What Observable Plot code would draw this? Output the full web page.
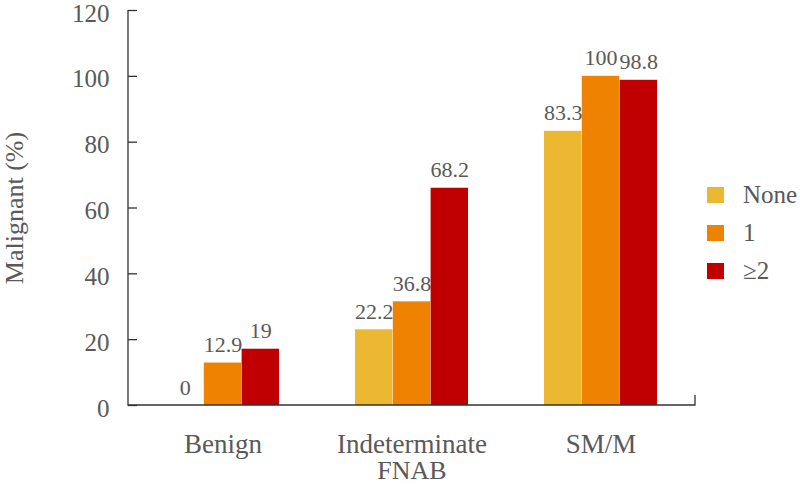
<!DOCTYPE html>
<html>
<head>
<meta charset="utf-8">
<script src="https://cdn.jsdelivr.net/npm/d3@7"></script>
<script src="https://cdn.jsdelivr.net/npm/@observablehq/plot@0.6"></script>
<style>
  html, body { margin: 0; padding: 0; background: #fff; }
  #wrap { position: relative; width: 800px; height: 484px; }
  #legend { position: absolute; left: 707px; top: 176px; font-family: "Liberation Serif", serif; font-size: 25px; color: #595959; }
  #legend .row { display: flex; align-items: center; height: 38px; }
  #legend .sw { width: 17px; height: 16px; margin-right: 19px; }
</style>
</head>
<body>
<div id="wrap"></div>
<script>
// ---- data ----
const groups = ["Benign", "Indeterminate", "SM/M"];
const seriesNames = ["None", "1", "≥2"];
const colors = ["#ECB731", "#EF8200", "#C00000"];
const valuesNone = [0, 23.0, 83.3];
const valuesOne = [12.9, 31.5, 100];
const valuesTwo = [17.1, 66.0, 98.8];
const labelsNone = ["0", "22.2", "83.3"];
const labelsOne = ["12.9", "36.8", "100"];
const labelsTwo = ["19", "68.2", "98.8"];
const yTicks = [0, 20, 40, 60, 80, 100, 120];
const xTitle = "FNAB";
const yTitle = "Malignant (%)";

const seriesValues = [valuesNone, valuesOne, valuesTwo];
const seriesLabels = [labelsNone, labelsOne, labelsTwo];
const data = [];
seriesNames.forEach((s, si) => groups.forEach((g, gi) => {
  data.push({group: g, series: s, si, value: seriesValues[si][gi], label: seriesLabels[si][gi]});
}));

// ---- layout ----
const W = 800, H = 484;
const mL = 128, mR = 105, mT = 10, mB = 79;
const padIn = 0.4, padOut = 0.2;
const step = (W - mL - mR) / (groups.length - padIn + 2 * padOut);
const bw = step * (1 - padIn);
const sub = bw / seriesNames.length;
const textColor = "#595959";

const axisLines = (index, scales, values, dims) => {
  const {width, height, marginLeft, marginRight, marginTop, marginBottom} = dims;
  const x0 = marginLeft, x1 = width - marginRight, yb = height - marginBottom;
  return d3.create("svg:path")
    .attr("d", `M${x0},${marginTop}V${yb}H${x1}V${yb - 10}`)
    .attr("fill", "none").attr("stroke", "#333").attr("stroke-width", 1.3)
    .node();
};

const marks = [];
seriesNames.forEach((s, si) => {
  const d = data.filter(r => r.si === si);
  marks.push(Plot.barY(d, {
    x: "group", y: "value", fill: colors[si],
    insetLeft: si * sub, insetRight: (seriesNames.length - 1 - si) * sub
  }));
  marks.push(Plot.text(d, {
    x: "group", y: "value", text: "label",
    dx: (si - (seriesNames.length - 1) / 2) * sub, dy: -11,
    lineAnchor: "bottom", fontSize: 22, fill: textColor
  }));
});

const chart = Plot.plot({
  width: W, height: H,
  marginLeft: mL, marginRight: mR, marginTop: mT, marginBottom: mB,
  style: {fontFamily: "Liberation Serif, serif", fontSize: "25px", color: textColor, background: "#fff"},
  x: {domain: groups, paddingInner: padIn, paddingOuter: padOut, label: null},
  y: {domain: [0, 120], label: null},
  marks: [
    ...marks,
    Plot.axisY({ticks: yTicks, tickSize: 0, tickPadding: 19, dy: 3, fontSize: 25, fill: textColor, label: null}),
    Plot.axisY({ticks: yTicks, tickSize: 9, dx: 9, text: null, stroke: "#333", strokeWidth: 1.3, label: null}),
    Plot.axisX({tickSize: 0, tickPadding: 28, fontSize: 27, fill: textColor, label: null}),
    Plot.text([xTitle], {frameAnchor: "bottom", dy: 65, lineAnchor: "middle", textAnchor: "middle", fill: textColor, fontSize: 26}),
    Plot.text([yTitle], {frameAnchor: "left", dx: -114, rotate: -90, lineAnchor: "middle", textAnchor: "middle", fill: textColor, fontSize: 26}),
    axisLines
  ]
});

const wrap = document.getElementById("wrap");
wrap.appendChild(chart);

const legend = document.createElement("div");
legend.id = "legend";
seriesNames.forEach((s, si) => {
  const row = document.createElement("div");
  row.className = "row";
  const sw = document.createElement("span");
  sw.className = "sw";
  sw.style.background = colors[si];
  const t = document.createElement("span");
  t.textContent = s;
  row.appendChild(sw); row.appendChild(t);
  legend.appendChild(row);
});
wrap.appendChild(legend);
</script>
</body>
</html>
